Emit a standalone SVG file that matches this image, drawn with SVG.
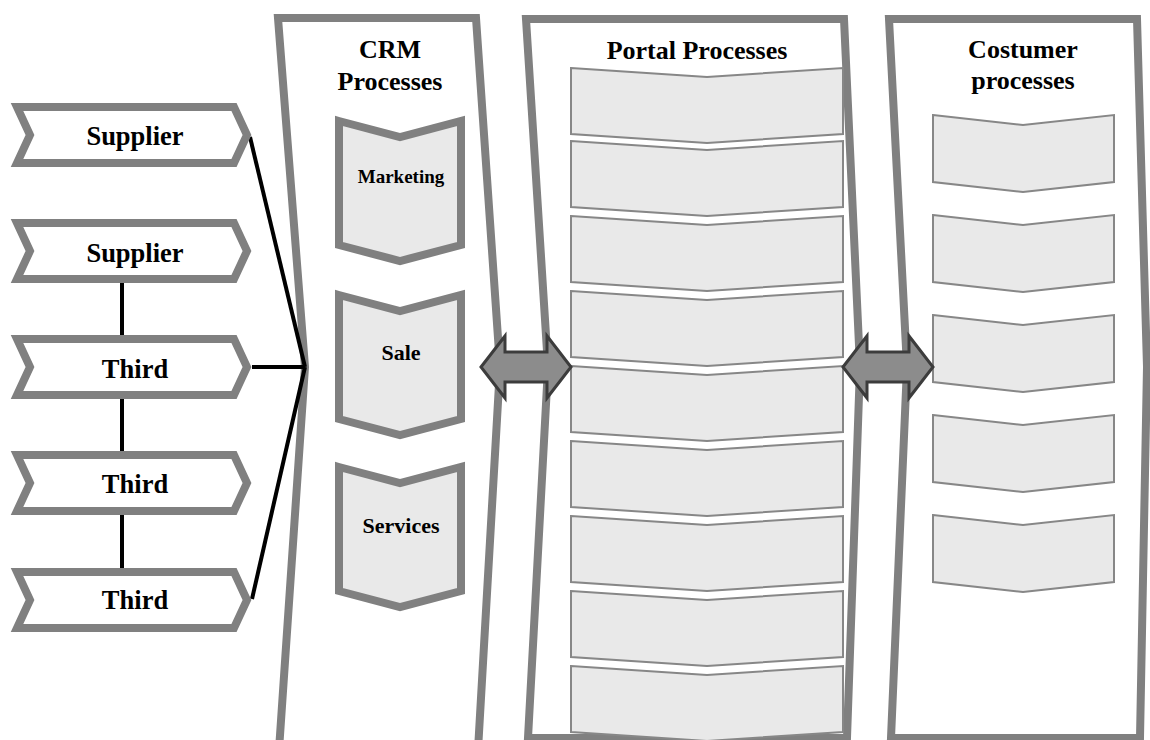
<svg xmlns="http://www.w3.org/2000/svg" xmlns:xlink="http://www.w3.org/1999/xlink" width="1150" height="740" viewBox="0 0 1150 740">
  <style>
    .lane { fill: #ffffff; stroke: #808080; stroke-width: 8; stroke-linejoin: miter; }
    .party { fill: #ffffff; stroke: #808080; stroke-width: 8; stroke-linejoin: miter; }
    .crm { fill: #e9e9e9; stroke: #808080; stroke-width: 8; stroke-linejoin: miter; }
    .step { fill: #e9e9e9; stroke: #878787; stroke-width: 2; }
    .dbl { fill: #8c8c8c; stroke: #3c3c3c; stroke-width: 3; stroke-linejoin: miter; }
    .link { fill: none; stroke: #000000; stroke-width: 4; }
    .t { font-family: "Liberation Serif", "Times New Roman", serif; font-weight: bold; fill: #000000; text-anchor: middle; }
    .title { font-size: 26px; }
    .party-label { font-size: 26.5px; }
    .crm-label { font-size: 22px; }
  </style>
  <defs>
    <!-- ribbon-style tag used for suppliers and third parties, centred on (0,0) -->
    <path id="tag" d="M-118,-28 L99,-28 L112,0 L99,28 L-118,28 L-105,0 Z"/>
    <!-- down-pointing step used inside the CRM lane, top-left origin -->
    <path id="crmStep" d="M0,0 L61,16 L122,0 L122,124 L61,140 L0,124 Z"/>
    <!-- thin step shape for portal processes -->
    <path id="portalStep" d="M0,0 L136,9 L272,0 L272,66 L136,75 L0,66 Z"/>
    <!-- thin step shape for customer processes -->
    <path id="custStep" d="M0,0 L90,10 L181,0 L181,67 L90,77 L0,67 Z"/>
  </defs>

  <!-- swim lanes -->
  <g id="lane-crm">
    <path class="lane" d="M279,750 L305,367 L278,18 L476,18 L500,367 L478,750 Z"/>
    <text class="t title" x="390" y="58">CRM</text>
    <text class="t title" x="390" y="90">Processes</text>
  </g>
  <g id="lane-portal">
    <path class="lane" d="M526,19 L844,19 L860,367 L847,738 L528,738 L548,367 Z"/>
    <text class="t title" x="697" y="59">Portal Processes</text>
  </g>
  <g id="lane-customer">
    <path class="lane" d="M889,19 L1137,19 L1147,367 L1140,738 L891,738 L907,367 Z"/>
    <text class="t title" x="1023" y="58">Costumer</text>
    <text class="t title" x="1023" y="89">processes</text>
  </g>

  <!-- connectors -->
  <g id="connectors">
    <line class="link" x1="250" y1="137" x2="305" y2="367"/>
    <line class="link" x1="252" y1="367" x2="305" y2="367"/>
    <line class="link" x1="252" y1="599" x2="305" y2="367"/>
    <line class="link" x1="122" y1="281" x2="122" y2="337"/>
    <line class="link" x1="122" y1="397" x2="122" y2="454"/>
    <line class="link" x1="122" y1="513" x2="122" y2="570"/>
  </g>

  <!-- suppliers and third parties -->
  <g id="supplier-1">
    <use xlink:href="#tag" class="party" transform="translate(135,135)"/>
    <text class="t party-label" x="135" y="145">Supplier</text>
  </g>
  <g id="supplier-2">
    <use xlink:href="#tag" class="party" transform="translate(135,251)"/>
    <text class="t party-label" x="135" y="262">Supplier</text>
  </g>
  <g id="third-1">
    <use xlink:href="#tag" class="party" transform="translate(135,367)"/>
    <text class="t party-label" x="135" y="378">Third</text>
  </g>
  <g id="third-2">
    <use xlink:href="#tag" class="party" transform="translate(135,483)"/>
    <text class="t party-label" x="135" y="493">Third</text>
  </g>
  <g id="third-3">
    <use xlink:href="#tag" class="party" transform="translate(135,600)"/>
    <text class="t party-label" x="135" y="609">Third</text>
  </g>

  <!-- CRM process steps -->
  <g id="crm-marketing">
    <use xlink:href="#crmStep" class="crm" transform="translate(339,121)"/>
    <text class="t" style="font-size:19px" x="401" y="183">Marketing</text>
  </g>
  <g id="crm-sale">
    <use xlink:href="#crmStep" class="crm" transform="translate(339,295)"/>
    <text class="t crm-label" x="401" y="360">Sale</text>
  </g>
  <g id="crm-services">
    <use xlink:href="#crmStep" class="crm" transform="translate(339,467)"/>
    <text class="t crm-label" x="401" y="533">Services</text>
  </g>

  <!-- portal process steps -->
  <g id="portal-1"><use xlink:href="#portalStep" class="step" transform="translate(571,68)"/></g>
  <g id="portal-2"><use xlink:href="#portalStep" class="step" transform="translate(571,141)"/></g>
  <g id="portal-3"><use xlink:href="#portalStep" class="step" transform="translate(571,216)"/></g>
  <g id="portal-4"><use xlink:href="#portalStep" class="step" transform="translate(571,291)"/></g>
  <g id="portal-5"><use xlink:href="#portalStep" class="step" transform="translate(571,366)"/></g>
  <g id="portal-6"><use xlink:href="#portalStep" class="step" transform="translate(571,441)"/></g>
  <g id="portal-7"><use xlink:href="#portalStep" class="step" transform="translate(571,516)"/></g>
  <g id="portal-8"><use xlink:href="#portalStep" class="step" transform="translate(571,591)"/></g>
  <g id="portal-9"><use xlink:href="#portalStep" class="step" transform="translate(571,666)"/></g>

  <!-- customer process steps -->
  <g id="customer-1"><use xlink:href="#custStep" class="step" transform="translate(933,115)"/></g>
  <g id="customer-2"><use xlink:href="#custStep" class="step" transform="translate(933,215)"/></g>
  <g id="customer-3"><use xlink:href="#custStep" class="step" transform="translate(933,315)"/></g>
  <g id="customer-4"><use xlink:href="#custStep" class="step" transform="translate(933,415)"/></g>
  <g id="customer-5"><use xlink:href="#custStep" class="step" transform="translate(933,515)"/></g>

  <!-- two-way exchange arrows between lanes -->
  <g id="exchange-crm-portal">
    <path class="dbl" d="M481,367 L505,336 L505,352 L547,352 L547,336 L571,367 L547,398 L547,382 L505,382 L505,398 Z"/>
  </g>
  <g id="exchange-portal-customer">
    <path class="dbl" d="M843,367 L867,336 L867,352 L909,352 L909,336 L933,367 L909,398 L909,382 L867,382 L867,398 Z"/>
  </g>
</svg>
